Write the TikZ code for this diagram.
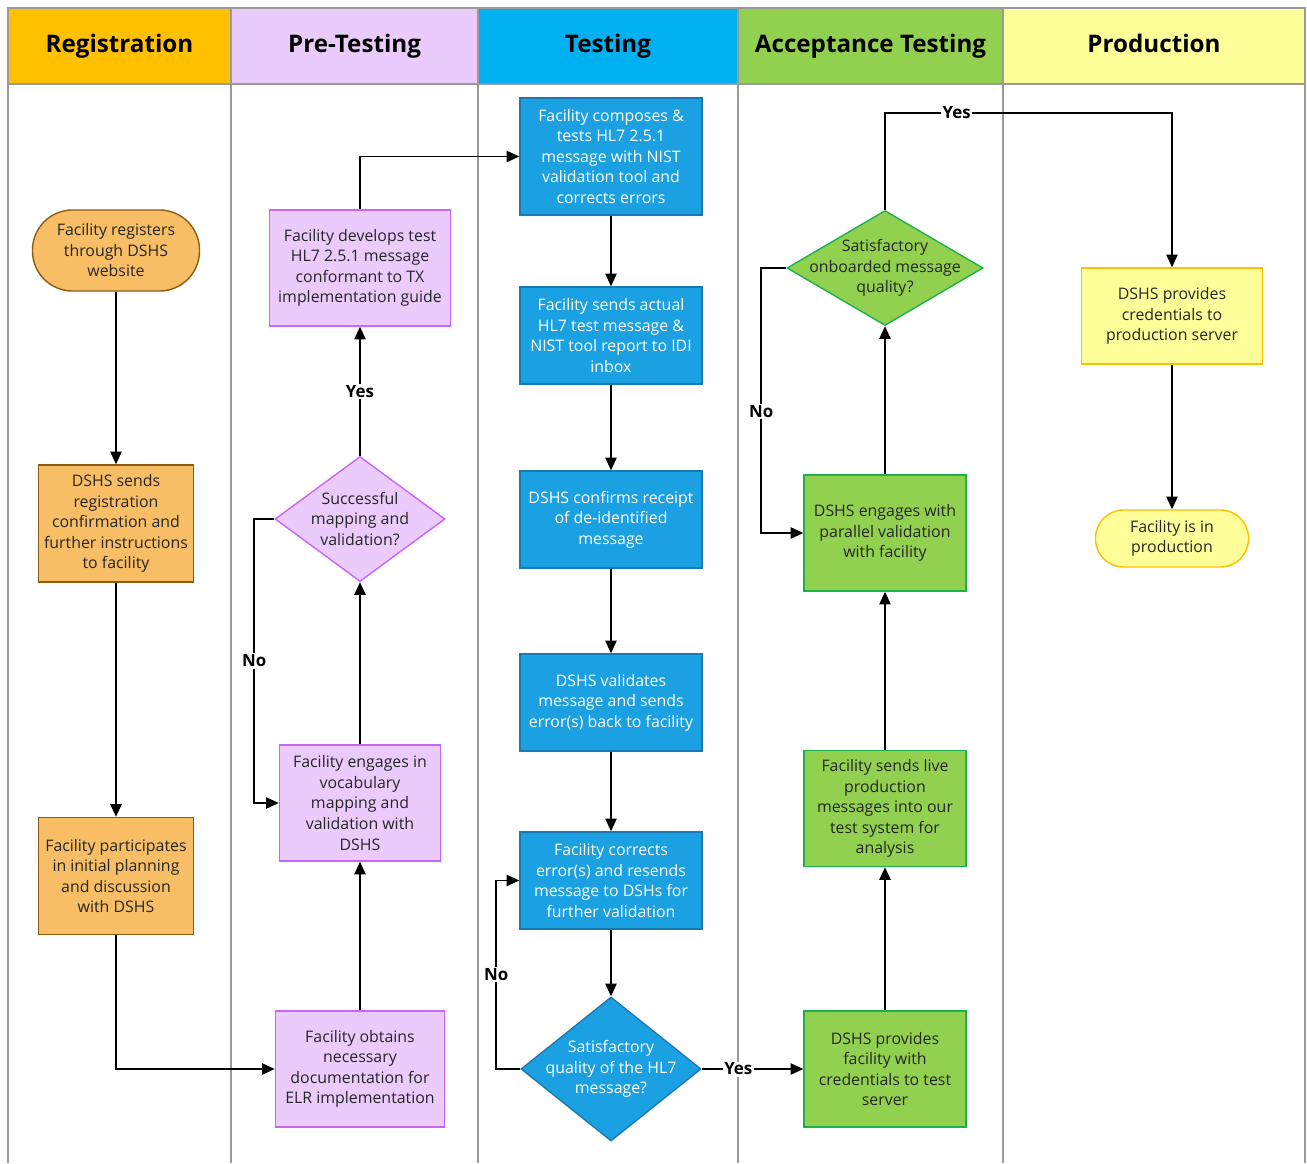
\documentclass[tikz,border=0pt]{standalone}
\usepackage{fontspec}
\setmainfont{Open Sans}
\usepackage{xcolor}
\usepackage{tikz}
\usetikzlibrary{calc, positioning, shapes.geometric, arrows.meta}

\definecolor{regHead}{HTML}{FFC000}
\definecolor{preHead}{HTML}{EACCFC}
\definecolor{tstHead}{HTML}{00B0F0}
\definecolor{accHead}{HTML}{92D050}
\definecolor{prodHead}{HTML}{FFFF99}
\definecolor{regFill}{HTML}{F8BE66}
\definecolor{regLine}{HTML}{8D5B12}
\definecolor{preFill}{HTML}{EBCBFB}
\definecolor{preLine}{HTML}{C666FF}
\definecolor{tstFill}{HTML}{1BA1E2}
\definecolor{tstLine}{HTML}{1B78B5}
\definecolor{accFill}{HTML}{92D050}
\definecolor{accLine}{HTML}{1DB14B}
\definecolor{prodFill}{HTML}{FFFF99}
\definecolor{prodLine}{HTML}{FFC000}
\definecolor{laneLine}{HTML}{9A9A9A}

\newcommand{\boxfont}{\fontsize{11.3pt}{14.6pt}\selectfont}
\newcommand{\headfont}{\fontsize{17.2pt}{19pt}\selectfont\bfseries}

\begin{document}
\begin{tikzpicture}[x=0.025cm, y=-0.025cm,
        box/.style={rectangle, draw, line width=1pt, align=center, inner sep=2pt,
            font=\boxfont, text=black!85},
        reg/.style={box, fill=regFill, draw=regLine, minimum width=3.875cm, minimum height=2.925cm},
        regend/.style={reg, rounded corners=1cm, minimum width=4.175cm, minimum height=2.025cm},
        pre/.style={box, fill=preFill, draw=preLine, minimum height=2.9cm},
        tst/.style={box, fill=tstFill, draw=tstLine, text=white, minimum width=4.55cm, minimum height=2.425cm},
        acc/.style={box, fill=accFill, draw=accLine, minimum width=4.05cm, minimum height=2.9cm},
        prod/.style={box, fill=prodFill, draw=prodLine},
        dec/.style={diamond, draw, line width=1pt, inner sep=0pt},
        dtxt/.style={align=center, font=\boxfont, text=black!85},
        flow/.style={line width=1.2pt, -{Triangle[length=9pt, width=8pt]}},
        yn/.style={fill=white, font=\bfseries\fontsize{12pt}{14pt}\selectfont, inner sep=1pt}
    ]
    \useasboundingbox (0,0) rectangle (1307,1163);
    % swimlanes
    \foreach \xa/\xb/\col/\name [count=\i] in {8/231/regHead/Registration, 231/478/preHead/Pre-Testing,
            478/738/tstHead/Testing, 738/1003/accHead/Acceptance Testing, 1003/1305/prodHead/Production} {
        \filldraw[fill=\col, draw=laneLine, line width=0.8pt] (\xa,8) rectangle (\xb,84);
        \node[font=\headfont, anchor=base] (head\i) at ({(\xa+\xb)/2},53) {\name};
        \draw[laneLine, line width=0.8pt] (\xa,84) -- (\xa,1163);
    }
    \draw[laneLine, line width=0.8pt] (1305,84) -- (1305,1163);

    % Registration
    \node[regend] (reg1) at (116,250.5) {Facility registers\\through DSHS\\website};
    \node[reg] (reg2) at (116,523.5) {DSHS sends\\registration\\confirmation and\\further instructions\\to facility};
    \node[reg] (reg3) at (116,876) {Facility participates\\in initial planning\\and discussion\\with DSHS};

    % Pre-Testing
    \node[pre, minimum width=4.525cm] (pre1) at (360,268) {Facility develops test\\HL7 2.5.1 message\\conformant to TX\\implementation guide};
    \node[dec, fill=preFill, draw=preLine, minimum width=4.25cm, minimum height=3.125cm,
        label={[dtxt]center:{Successful\\mapping and\\validation?}}] (pre2) at (360,519) {};
    \node[pre, minimum width=4.025cm] (pre3) at (360,803) {Facility engages in\\vocabulary\\mapping and\\validation with\\DSHS};
    \node[pre, minimum width=4.225cm] (pre4) at (360,1069) {Facility obtains\\necessary\\documentation for\\ELR implementation};

    % Testing
    \node[tst, minimum height=2.925cm] (t1) at (611,156.5) {Facility composes \&\\tests HL7 2.5.1\\message with NIST\\validation tool and\\corrects errors};
    \node[tst] (t2) at (611,335.5) {Facility sends actual\\HL7 test message \&\\NIST tool report to IDI\\inbox};
    \node[tst] (t3) at (611,519.5) {DSHS confirms receipt\\of de-identified\\message};
    \node[tst] (t4) at (611,702.5) {DSHS validates\\message and sends\\error(s) back to facility};
    \node[tst] (t5) at (611,880.5) {Facility corrects\\error(s) and resends\\message to DSHs for\\further validation};
    \node[dec, fill=tstFill, draw=tstLine, minimum width=4.5cm, minimum height=3.6cm,
        label={[dtxt, text=white]center:{Satisfactory\\quality of the HL7\\message?}}] (t6) at (611,1069) {};

    % Acceptance Testing
    \node[dec, fill=accFill, draw=accLine, minimum width=4.9cm, minimum height=2.875cm,
        label={[dtxt]center:{Satisfactory\\onboarded message\\quality?}}] (a1) at (885,268) {};
    \node[acc] (a2) at (885,533) {DSHS engages with\\parallel validation\\with facility};
    \node[acc] (a3) at (885,808.5) {Facility sends live\\production\\messages into our\\test system for\\analysis};
    \node[acc] (a4) at (885,1069) {DSHS provides\\facility with\\credentials to test\\server};

    % Production
    \node[prod, minimum width=4.525cm, minimum height=2.4cm] (p1) at (1172,316) {DSHS provides\\credentials to\\production server};
    \node[prod, rounded corners=0.7cm, minimum width=3.825cm, minimum height=1.425cm] (p2) at (1172,538.5) {Facility is in\\production};
    \coordinate (yesTurn) at (1172,113);

    % connectors
    \draw[flow] (reg1) -- (reg2);
    \draw[flow] (reg2) -- (reg3);
    \draw[flow] (reg3.south) |- (pre4.west);
    \draw[flow] (pre4) -- (pre3);
    \draw[flow] (pre3) -- (pre2);
    \draw[flow] (pre2) -- node[yn] {Yes} (pre1);
    \draw[flow] (pre2.west) -- ++(-20,0) |- node[yn, pos=0.25] {No} (pre3.west);
    \draw[flow] (pre1.north) |- (t1.west);
    \draw[flow] (t1) -- (t2);
    \draw[flow] (t2) -- (t3);
    \draw[flow] (t3) -- (t4);
    \draw[flow] (t4) -- (t5);
    \draw[flow] (t5) -- (t6);
    \draw[flow] (t6.west) -- ++(-24,0) |- node[yn, pos=0.25] {No} (t5.west);
    \draw[flow] (t6.east) -- node[yn, pos=0.36] {Yes} (a4.west);
    \draw[flow] (a4) -- (a3);
    \draw[flow] (a3) -- (a2);
    \draw[flow] (a2) -- (a1);
    \draw[flow] (a1.west) -- ++(-25,0) |- node[yn, pos=0.27] {No} (a2.west);
    \draw[flow] (a1.north) |- node[yn, pos=0.625] {Yes} (yesTurn) -- (p1.north);
    \draw[flow] (p1) -- (p2);
\end{tikzpicture}
\end{document}
